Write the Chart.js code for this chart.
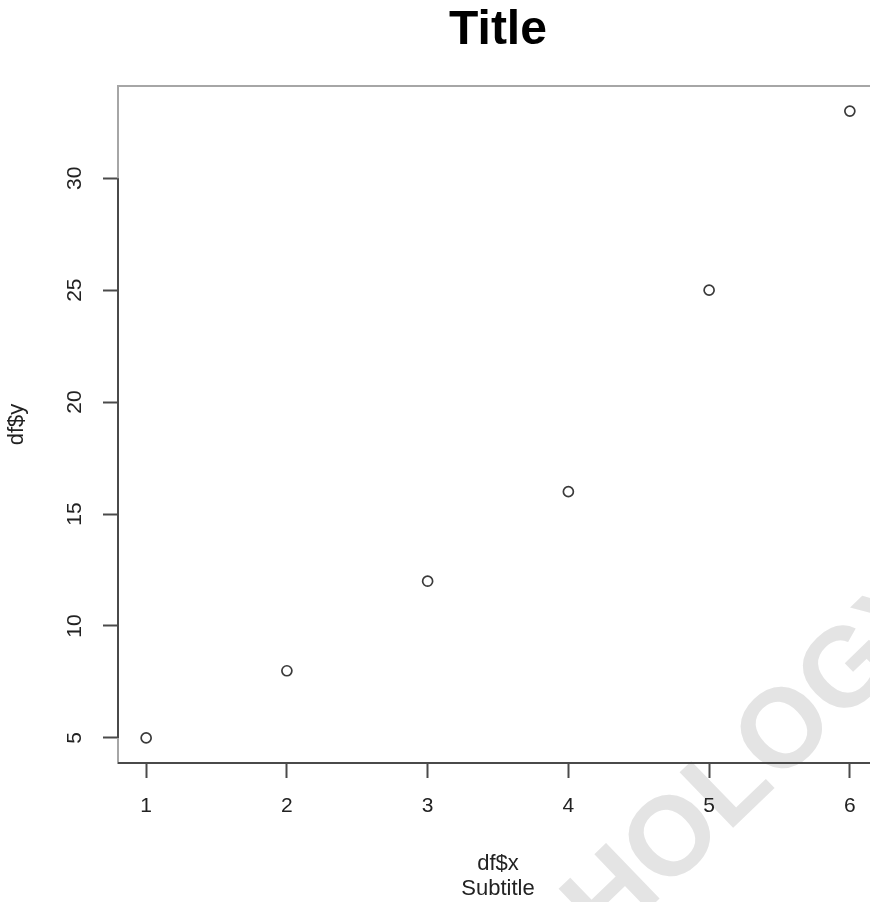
<!DOCTYPE html>
<html>
<head>
<meta charset="utf-8">
<script src="https://cdn.jsdelivr.net/npm/chart.js@4/dist/chart.umd.min.js"></script>
<style>
  html, body { margin: 0; padding: 0; background: #fff; }
  #wrap { width: 870px; height: 902px; overflow: hidden; position: relative; }
  canvas { display: block; }
</style>
</head>
<body>
<div id="wrap"><canvas id="plot" width="900" height="902"></canvas></div>
<script>
(function () {
    "use strict";

    /* data */
    const xValues = [1, 2, 3, 4, 5, 6];
    const yValues = [5, 8, 12, 16, 25, 33];
    const xTicks = [1, 2, 3, 4, 5, 6];
    const yTicks = [5, 10, 15, 20, 25, 30];

    const FONT = "'Liberation Sans', Arial, Helvetica, sans-serif";

    // R pads each axis range by 4%
    const xPad = (Math.max(...xValues) - Math.min(...xValues)) * 0.04;
    const yPad = (Math.max(...yValues) - Math.min(...yValues)) * 0.04;

    /* faint watermark sitting under the plot */
    const watermark = {
        id: 'watermark',
        beforeDraw(chart) {
            const ctx = chart.ctx;
            ctx.save();
            ctx.translate(669, 834);
            ctx.rotate(-44 * Math.PI / 180);
            ctx.fillStyle = '#e4e4e4';
            ctx.font = "bold 112px " + FONT;
            ctx.textAlign = 'left';
            ctx.textBaseline = 'alphabetic';
            ctx.fillText('HOLOGY', -125, 40);
            ctx.restore();
        }
    };

    /* box + axis lines like base R */
    const rBox = {
        id: 'rBox',
        afterDraw(chart) {
            const ctx = chart.ctx, a = chart.chartArea;
            const ys = chart.scales.y;
            ctx.save();
            ctx.strokeStyle = '#a6a6a6';
            ctx.lineWidth = 2;
            ctx.strokeRect(a.left, a.top, a.right - a.left, a.bottom - a.top);
            ctx.strokeStyle = '#4a4a4a';
            ctx.beginPath();
            ctx.moveTo(a.left, a.bottom);
            ctx.lineTo(a.right, a.bottom);
            ctx.moveTo(a.left, ys.getPixelForValue(yTicks[0]));
            ctx.lineTo(a.left, ys.getPixelForValue(yTicks[yTicks.length - 1]));
            ctx.stroke();
            ctx.restore();
        }
    };

    const data = {
        datasets: [{
            label: 'df',
            data: xValues.map((x, i) => ({ x: x, y: yValues[i] })),
            pointStyle: 'circle',
            pointRadius: 5,
            pointBorderWidth: 1.7,
            borderColor: '#3a3a3a',
            backgroundColor: 'rgba(0,0,0,0)',
            showLine: false
        }]
    };

    const config = {
        type: 'scatter',
        data: data,
        options: {
            responsive: false,
            animation: false,
            devicePixelRatio: 1,
            layout: { padding: { left: 0, right: 22, top: 0, bottom: 0 } },
            plugins: {
                legend: { display: false },
                tooltip: { enabled: false },
                title: {
                    display: true,
                    text: 'Title',
                    fullSize: false,
                    color: '#000',
                    font: { family: FONT, size: 48, weight: 'bold', lineHeight: 1.2 },
                    padding: { top: 2, bottom: 26.4 }
                }
            },
            scales: {
                x: {
                    type: 'linear',
                    min: Math.min(...xValues) - xPad,
                    max: Math.max(...xValues) + xPad,
                    afterBuildTicks: s => { s.ticks = xTicks.map(v => ({ value: v })); },
                    afterFit: s => { s.height = 139; },
                    grid: { drawOnChartArea: false, drawTicks: true, tickLength: 15, tickWidth: 2, tickColor: '#4a4a4a' },
                    border: { display: false },
                    ticks: {
                        color: '#222', padding: 16, maxRotation: 0,
                        font: { family: FONT, size: 21 }
                    },
                    title: {
                        display: true,
                        text: ['df$x', 'Subtitle'],
                        color: '#222',
                        font: { family: FONT, size: 22, lineHeight: 1.14 },
                        padding: { top: 0, bottom: 0.5 }
                    }
                },
                y: {
                    type: 'linear',
                    min: Math.min(...yValues) - yPad,
                    max: Math.max(...yValues) + yPad,
                    afterBuildTicks: s => { s.ticks = yTicks.map(v => ({ value: v })); },
                    afterFit: s => { s.width = 118; },
                    grid: { drawOnChartArea: false, drawTicks: true, tickLength: 15, tickWidth: 2, tickColor: '#4a4a4a' },
                    border: { display: false },
                    ticks: {
                        color: '#222', padding: 16, minRotation: 90, maxRotation: 90,
                        crossAlign: 'center',
                        font: { family: FONT, size: 21 }
                    },
                    title: {
                        display: true,
                        text: 'df$y',
                        color: '#222',
                        font: { family: FONT, size: 22, lineHeight: 1.14 },
                        padding: { top: 4.5, bottom: 0 }
                    }
                }
            }
        },
        plugins: [watermark, rBox]
    };

    const myChart = new Chart(document.getElementById('plot'), config);
})();
</script>
</body>
</html>
